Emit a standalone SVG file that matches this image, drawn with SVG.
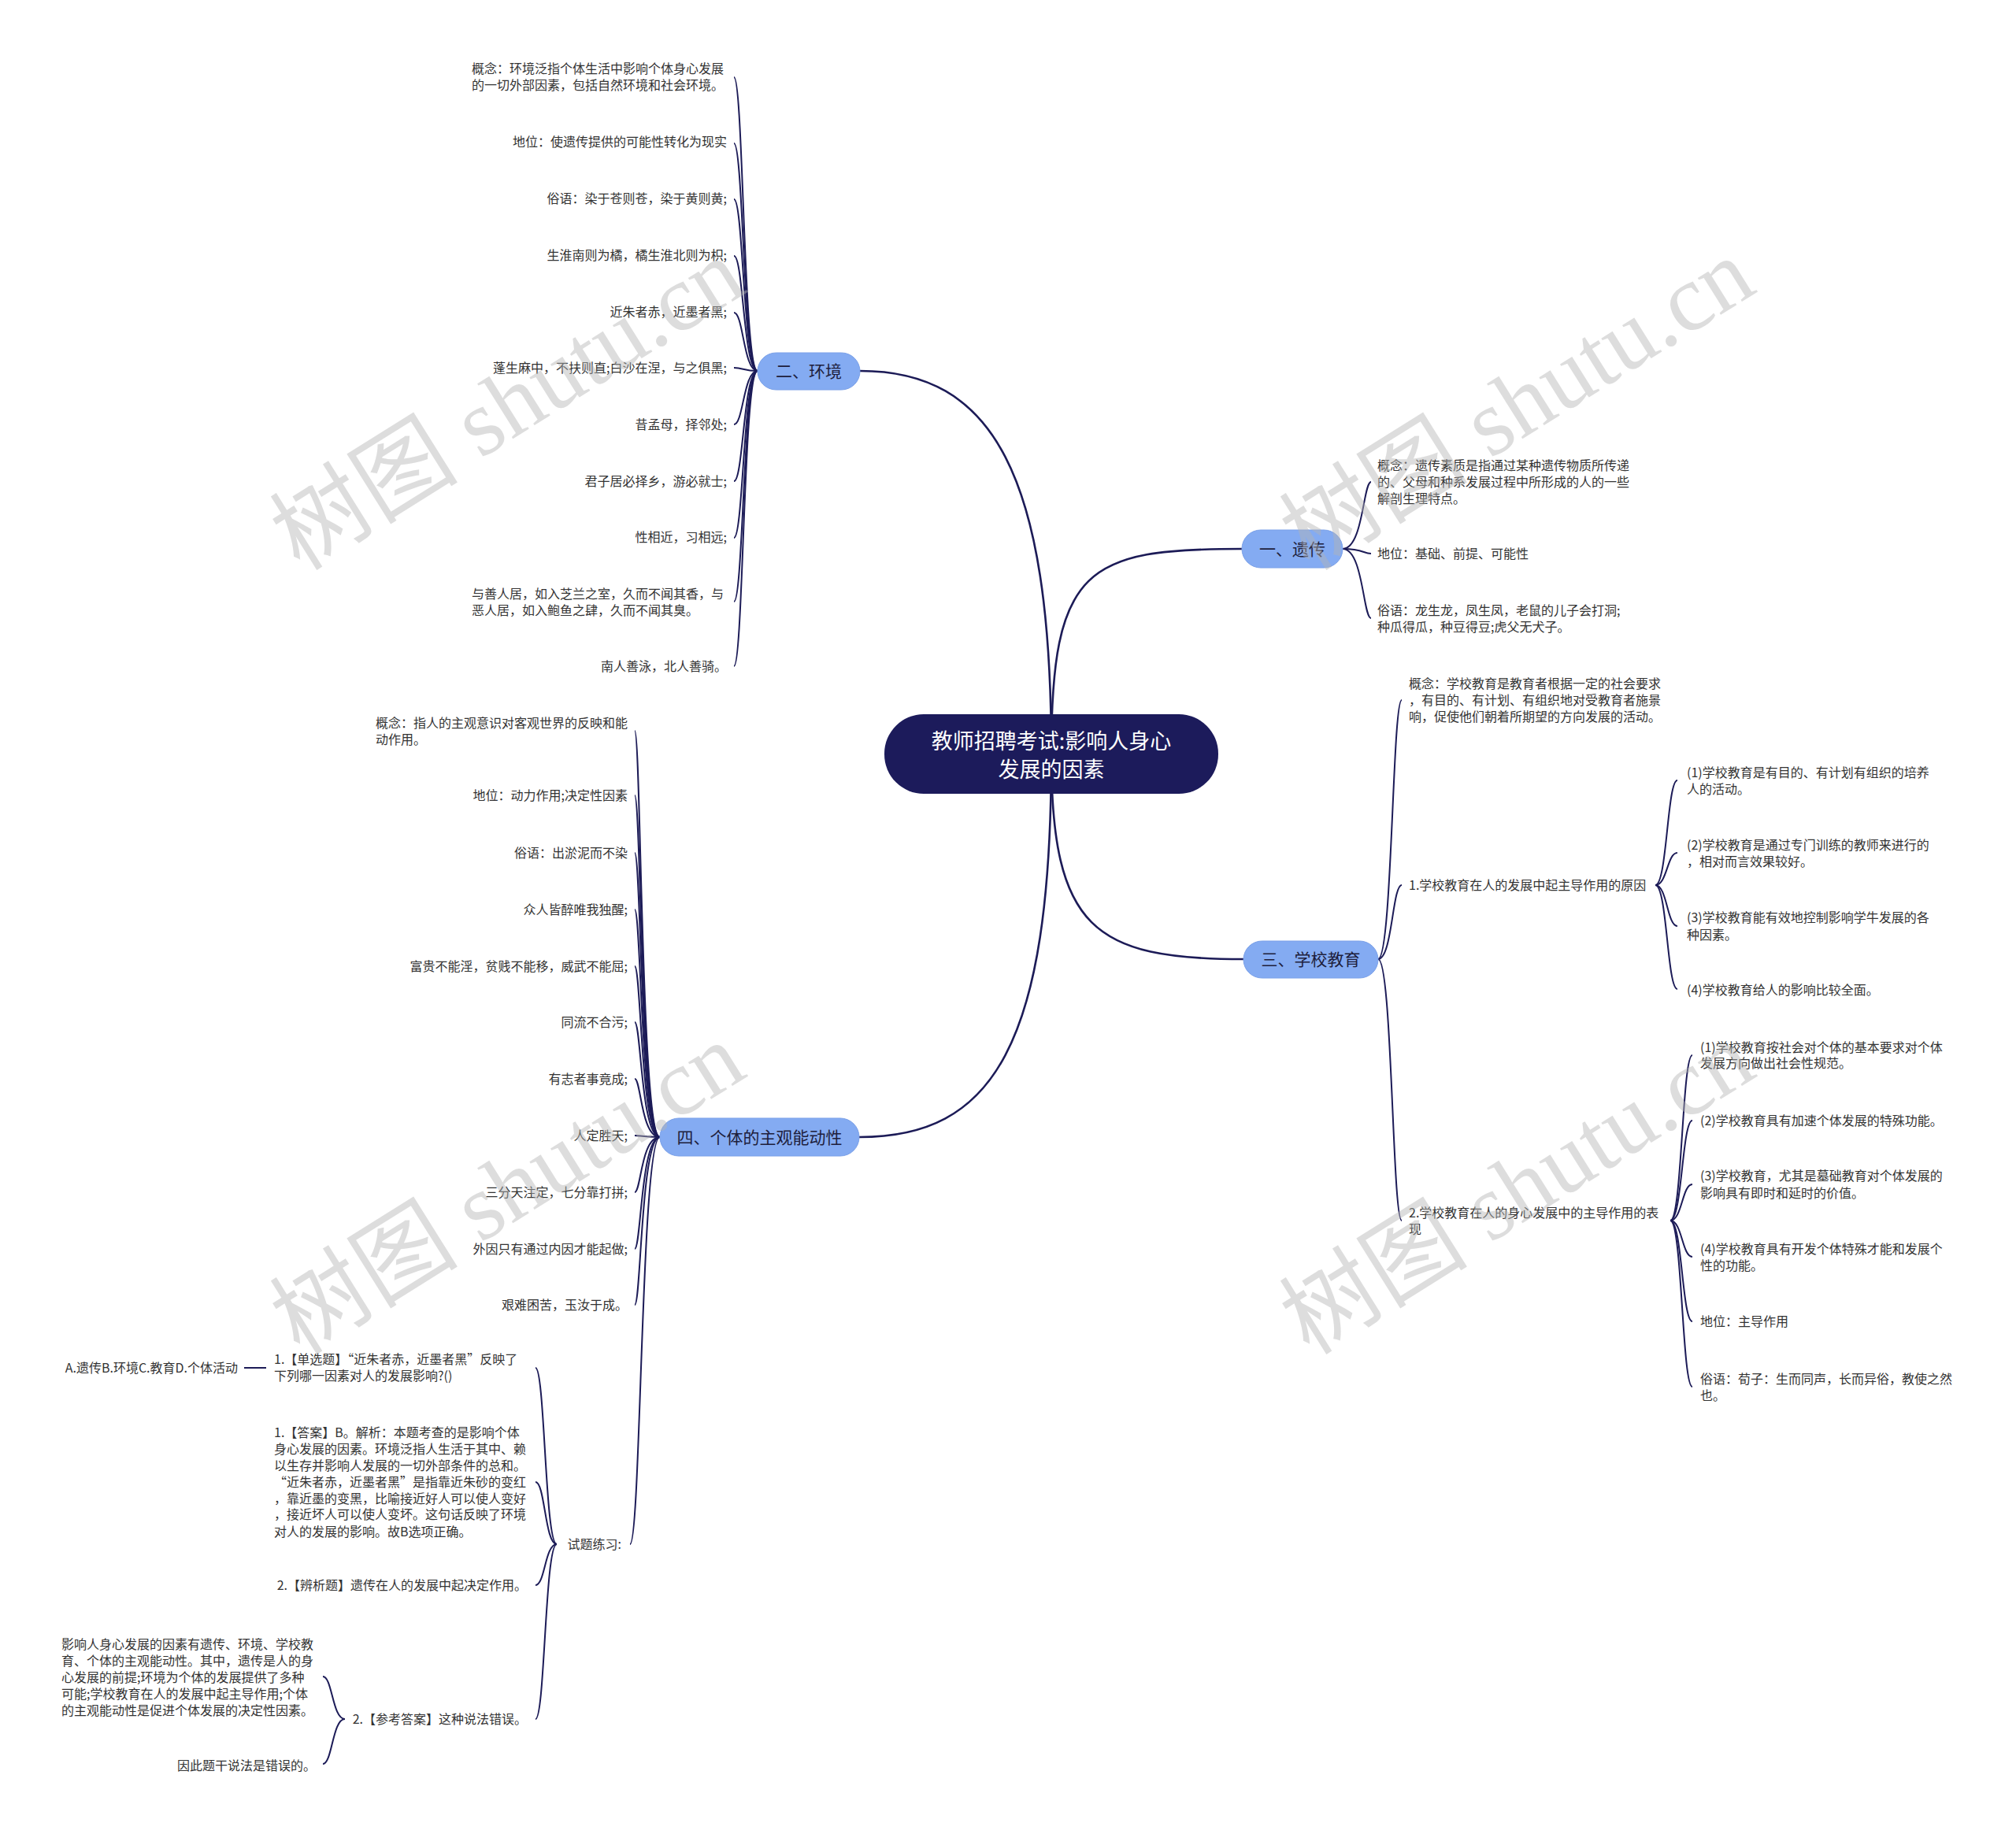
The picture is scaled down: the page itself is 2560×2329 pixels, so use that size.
<svg xmlns="http://www.w3.org/2000/svg" width="2560" height="2329" viewBox="0 0 2560 2329">
<style>
.t{font-family:"Noto Sans CJK SC","Noto Sans",sans-serif;font-size:16px;fill:#333333}
.e{text-anchor:end}
.pill{fill:#84abf2;stroke:#7aa0e8;stroke-width:1}
.pt{font-family:"Noto Sans CJK SC","Noto Sans",sans-serif;font-size:21px;fill:#1e1e3c;text-anchor:middle}
.ct{font-family:"Noto Sans CJK SC","Noto Sans",sans-serif;font-size:27px;fill:#ffffff;text-anchor:middle}
.main{fill:none;stroke:#1c1b57;stroke-width:2.6}
.br{fill:none;stroke:#1c1b57;stroke-width:2}
.wm{font-family:"Liberation Serif","Noto Sans CJK SC",serif;font-size:120px;fill:#b4b4b4;fill-opacity:0.45}
</style>
<rect width="2560" height="2329" fill="#ffffff"/>
<g id="connectors">
<path class="main" d="M1335 957 C1335 600,1260 471,1092 471"/>
<path class="main" d="M1335 957 C1335 720,1380 697,1577 697"/>
<path class="main" d="M1335 957 C1335 1180,1390 1218,1579 1218"/>
<path class="main" d="M1335 957 C1335 1330,1260 1444,1091 1444"/>
<!-- env -->
<path class="br" d="M962 471 C944 471,944 98,932 98"/>
<path class="br" d="M962 471 C944 471,944 182,932 182"/>
<path class="br" d="M962 471 C944 471,944 253,932 253"/>
<path class="br" d="M962 471 C944 471,944 325,932 325"/>
<path class="br" d="M962 471 C944 471,944 397,932 397"/>
<path class="br" d="M962 471 C944 471,944 467,932 467"/>
<path class="br" d="M962 471 C944 471,944 539,932 539"/>
<path class="br" d="M962 471 C944 471,944 611,932 611"/>
<path class="br" d="M962 471 C944 471,944 683,932 683"/>
<path class="br" d="M962 471 C944 471,944 764,932 764"/>
<path class="br" d="M962 471 C944 471,944 846,932 846"/>
<!-- subjective -->
<path class="br" d="M838 1444 C814 1444,814 928,806 928"/>
<path class="br" d="M838 1444 C814 1444,814 1010,806 1010"/>
<path class="br" d="M838 1444 C814 1444,814 1083,806 1083"/>
<path class="br" d="M838 1444 C814 1444,814 1155,806 1155"/>
<path class="br" d="M838 1444 C814 1444,814 1227,806 1227"/>
<path class="br" d="M838 1444 C814 1444,814 1298,806 1298"/>
<path class="br" d="M838 1444 C814 1444,814 1370,806 1370"/>
<path class="br" d="M838 1444 C814 1444,814 1442,806 1442"/>
<path class="br" d="M838 1444 C814 1444,814 1514,806 1514"/>
<path class="br" d="M838 1444 C814 1444,814 1586,806 1586"/>
<path class="br" d="M838 1444 C814 1444,814 1657,806 1657"/>
<path class="br" d="M838 1444 C814 1444,814 1961,800 1961"/>
<!-- exercises -->
<path class="br" d="M707 1961 C692 1961,692 1737,680 1737"/>
<path class="br" d="M707 1961 C692 1961,692 1882,680 1882"/>
<path class="br" d="M707 1961 C692 1961,692 2013,680 2013"/>
<path class="br" d="M707 1961 C692 1961,692 2183,680 2183"/>
<path class="br" d="M338 1737 L310 1737"/>
<path class="br" d="M438 2183 C422 2183,422 2129,410 2129"/>
<path class="br" d="M438 2183 C422 2183,422 2240,410 2240"/>
<!-- heredity -->
<path class="br" d="M1705 697 C1731 697,1731 612,1741 612"/>
<path class="br" d="M1705 697 C1731 697,1731 703,1741 703"/>
<path class="br" d="M1705 697 C1731 697,1731 785,1741 785"/>
<!-- school -->
<path class="br" d="M1750 1218 C1768 1218,1768 889,1780 889"/>
<path class="br" d="M1750 1218 C1768 1218,1768 1124,1780 1124"/>
<path class="br" d="M1750 1218 C1768 1218,1768 1550,1780 1550"/>
<path class="br" d="M2102 1124 C2117 1124,2117 991,2130 991"/>
<path class="br" d="M2102 1124 C2117 1124,2117 1083,2130 1083"/>
<path class="br" d="M2102 1124 C2117 1124,2117 1176,2130 1176"/>
<path class="br" d="M2102 1124 C2117 1124,2117 1256,2130 1256"/>
<path class="br" d="M2121 1550 C2136 1550,2136 1340,2149 1340"/>
<path class="br" d="M2121 1550 C2136 1550,2136 1423,2149 1423"/>
<path class="br" d="M2121 1550 C2136 1550,2136 1504,2149 1504"/>
<path class="br" d="M2121 1550 C2136 1550,2136 1596,2149 1596"/>
<path class="br" d="M2121 1550 C2136 1550,2136 1678,2149 1678"/>
<path class="br" d="M2121 1550 C2136 1550,2136 1761,2149 1761"/>
</g>
<g id="root">
<rect x="1123" y="907" width="424" height="101" rx="50" fill="#1c1b5b"/>
<text class="ct" x="1335" y="951">教师招聘考试:影响人身心</text>
<text class="ct" x="1335" y="987">发展的因素</text>
</g>
<g id="n-env">
<rect class="pill" x="962" y="448" width="130" height="47" rx="23.5"/>
<text class="pt" x="1027" y="479">二、环境</text>
</g>
<g id="n-heredity">
<rect class="pill" x="1577" y="673" width="128" height="48" rx="24"/>
<text class="pt" x="1641" y="705">一、遗传</text>
</g>
<g id="n-school">
<rect class="pill" x="1579" y="1195" width="171" height="47" rx="23.5"/>
<text class="pt" x="1664.5" y="1226">三、学校教育</text>
</g>
<g id="n-subjective">
<rect class="pill" x="838" y="1420" width="253" height="48" rx="24"/>
<text class="pt" x="964.5" y="1452">四、个体的主观能动性</text>
</g>
<g id="env-leaves">
<g id="env1"><text class="t" x="599" y="93">概念：环境泛指个体生活中影响个体身心发展</text><text class="t" x="599" y="114">的一切外部因素，包括自然环境和社会环境。</text></g>
<g id="env2"><text class="t e" x="923" y="186">地位：使遗传提供的可能性转化为现实</text></g>
<g id="env3"><text class="t e" x="923" y="258">俗语：染于苍则苍，染于黄则黄;</text></g>
<g id="env4"><text class="t e" x="923" y="330">生淮南则为橘，橘生淮北则为枳;</text></g>
<g id="env5"><text class="t e" x="923" y="402">近朱者赤，近墨者黑;</text></g>
<g id="env6"><text class="t e" x="923" y="473">蓬生麻中，不扶则直;白沙在涅，与之俱黑;</text></g>
<g id="env7"><text class="t e" x="923" y="545">昔孟母，择邻处;</text></g>
<g id="env8"><text class="t e" x="923" y="617">君子居必择乡，游必就士;</text></g>
<g id="env9"><text class="t e" x="923" y="688">性相近，习相远;</text></g>
<g id="env10"><text class="t" x="599" y="760">与善人居，如入芝兰之室，久而不闻其香，与</text><text class="t" x="599" y="781">恶人居，如入鲍鱼之肆，久而不闻其臭。</text></g>
<g id="env11"><text class="t e" x="923" y="852">南人善泳，北人善骑。</text></g>
</g>
<g id="sub-leaves">
<g id="sub1"><text class="t" x="477" y="924">概念：指人的主观意识对客观世界的反映和能</text><text class="t" x="477" y="945">动作用。</text></g>
<g id="sub2"><text class="t e" x="797" y="1016">地位：动力作用;决定性因素</text></g>
<g id="sub3"><text class="t e" x="797" y="1089">俗语：出淤泥而不染</text></g>
<g id="sub4"><text class="t e" x="797" y="1161">众人皆醉唯我独醒;</text></g>
<g id="sub5"><text class="t e" x="797" y="1233">富贵不能淫，贫贱不能移，威武不能屈;</text></g>
<g id="sub6"><text class="t e" x="797" y="1304">同流不合污;</text></g>
<g id="sub7"><text class="t e" x="797" y="1376">有志者事竟成;</text></g>
<g id="sub8"><text class="t e" x="797" y="1448">人定胜天;</text></g>
<g id="sub9"><text class="t e" x="797" y="1520">三分天注定，七分靠打拼;</text></g>
<g id="sub10"><text class="t e" x="797" y="1592">外因只有通过内因才能起做;</text></g>
<g id="sub11"><text class="t e" x="797" y="1663">艰难困苦，玉汝于成。</text></g>
<g id="sub12"><text class="t e" x="789" y="1967">试题练习:</text></g>
</g>
<g id="exercise">
<g id="ex1"><text class="t" x="348" y="1732">1.【单选题】“近朱者赤，近墨者黑”反映了</text><text class="t" x="348" y="1753">下列哪一因素对人的发展影响?()</text></g>
<g id="ex1a"><text class="t e" x="302" y="1743">A.遗传B.环境C.教育D.个体活动</text></g>
<g id="ex2"><text class="t" x="348" y="1825">1.【答案】B。解析：本题考查的是影响个体</text><text class="t" x="348" y="1846">身心发展的因素。环境泛指人生活于其中、赖</text><text class="t" x="348" y="1867">以生存并影响人发展的一切外部条件的总和。</text><text class="t" x="348" y="1888">“近朱者赤，近墨者黑”是指靠近朱砂的变红</text><text class="t" x="348" y="1909">，靠近墨的变黑，比喻接近好人可以使人变好</text><text class="t" x="348" y="1929">，接近坏人可以使人变坏。这句话反映了环境</text><text class="t" x="348" y="1951">对人的发展的影响。故B选项正确。</text></g>
<g id="ex3"><text class="t e" x="669" y="2019">2.【辨析题】遗传在人的发展中起决定作用。</text></g>
<g id="ex4"><text class="t e" x="669" y="2189">2.【参考答案】这种说法错误。</text></g>
<g id="ex4a"><text class="t" x="78" y="2094">影响人身心发展的因素有遗传、环境、学校教</text><text class="t" x="78" y="2115">育、个体的主观能动性。其中，遗传是人的身</text><text class="t" x="78" y="2136">心发展的前提;环境为个体的发展提供了多种</text><text class="t" x="78" y="2157">可能;学校教育在人的发展中起主导作用;个体</text><text class="t" x="78" y="2178">的主观能动性是促进个体发展的决定性因素。</text></g>
<g id="ex4b"><text class="t e" x="401" y="2248">因此题干说法是错误的。</text></g>
</g>
<g id="her-leaves">
<g id="her1"><text class="t" x="1749" y="597">概念：遗传素质是指通过某种遗传物质所传递</text><text class="t" x="1749" y="618">的、父母和种系发展过程中所形成的人的一些</text><text class="t" x="1749" y="639">解剖生理特点。</text></g>
<g id="her2"><text class="t" x="1749" y="709">地位：基础、前提、可能性</text></g>
<g id="her3"><text class="t" x="1749" y="781">俗语：龙生龙，凤生凤，老鼠的儿子会打洞;</text><text class="t" x="1749" y="802">种瓜得瓜，种豆得豆;虎父无犬子。</text></g>
</g>
<g id="school-leaves">
<g id="sc1"><text class="t" x="1789" y="874">概念：学校教育是教育者根据一定的社会要求</text><text class="t" x="1789" y="895">，有目的、有计划、有组织地对受教育者施景</text><text class="t" x="1789" y="916">响，促使他们朝着所期望的方向发展的活动。</text></g>
<g id="sc2"><text class="t" x="1789" y="1130">1.学校教育在人的发展中起主导作用的原因</text></g>
<g id="sc2a"><text class="t" x="2142" y="987">(1)学校教育是有目的、有计划有组织的培养</text><text class="t" x="2142" y="1008">人的活动。</text></g>
<g id="sc2b"><text class="t" x="2142" y="1079">(2)学校教育是通过专门训练的教师来进行的</text><text class="t" x="2142" y="1100">，相对而言效果较好。</text></g>
<g id="sc2c"><text class="t" x="2142" y="1171">(3)学校教育能有效地控制影响学牛发展的各</text><text class="t" x="2142" y="1193">种因素。</text></g>
<g id="sc2d"><text class="t" x="2142" y="1263">(4)学校教育给人的影响比较全面。</text></g>
<g id="sc3"><text class="t" x="1789" y="1546">2.学校教育在人的身心发展中的主导作用的表</text><text class="t" x="1789" y="1567">现</text></g>
<g id="sc3a"><text class="t" x="2159" y="1336">(1)学校教育按社会对个体的基本要求对个体</text><text class="t" x="2159" y="1356">发展方向做出社会性规范。</text></g>
<g id="sc3b"><text class="t" x="2159" y="1429">(2)学校教育具有加速个体发展的特殊功能。</text></g>
<g id="sc3c"><text class="t" x="2159" y="1499">(3)学校教育，尤其是墓础教育对个体发展的</text><text class="t" x="2159" y="1521">影响具有即时和延时的价值。</text></g>
<g id="sc3d"><text class="t" x="2159" y="1592">(4)学校教育具有开发个体特殊才能和发展个</text><text class="t" x="2159" y="1613">性的功能。</text></g>
<g id="sc3e"><text class="t" x="2159" y="1684">地位：主导作用</text></g>
<g id="sc3f"><text class="t" x="2159" y="1757">俗语：荀子：生而同声，长而异俗，教使之然</text><text class="t" x="2159" y="1778">也。</text></g>
</g>
<g id="watermarks">
<text class="wm" transform="translate(645 514) rotate(-32)" text-anchor="middle" y="40">树图 shutu.cn</text>
<text class="wm" transform="translate(1927 514) rotate(-32)" text-anchor="middle" y="40">树图 shutu.cn</text>
<text class="wm" transform="translate(645 1510) rotate(-32)" text-anchor="middle" y="40">树图 shutu.cn</text>
<text class="wm" transform="translate(1927 1510) rotate(-32)" text-anchor="middle" y="40">树图 shutu.cn</text>
</g>
</svg>
